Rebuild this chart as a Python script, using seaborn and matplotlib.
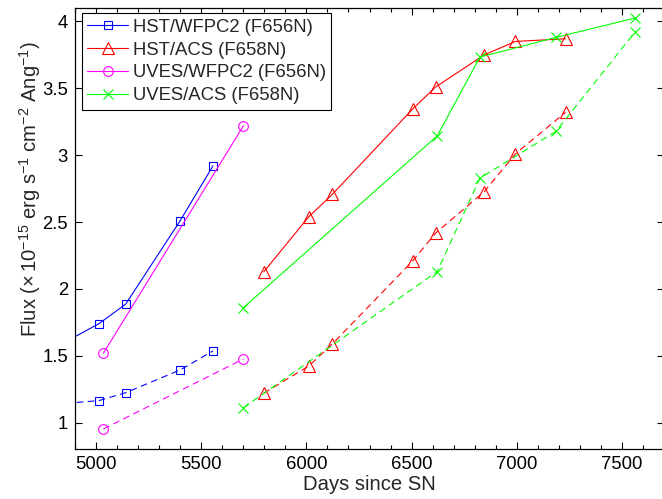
import matplotlib
matplotlib.use("Agg")
import matplotlib.pyplot as plt
from matplotlib.ticker import MultipleLocator, FuncFormatter
import seaborn as sns

# Light-curve fluxes: solid = one aperture, dashed = the other, per instrument pair
hst_wfpc2_days = [4750, 5014, 5141, 5400, 5556]
hst_wfpc2_solid = [1.515, 1.74, 1.886, 2.51, 2.92]
hst_wfpc2_dashed = [1.13, 1.165, 1.224, 1.394, 1.536]

hst_acs_days = [5797, 6012, 6124, 6506, 6614, 6846, 6994, 7232]
hst_acs_solid = [2.127, 2.54, 2.708, 3.346, 3.509, 3.75, 3.85, 3.87]
hst_acs_dashed = [1.22, 1.424, 1.589, 2.21, 2.417, 2.728, 3.01, 3.32]

uves_wfpc2_days = [5035, 5701]
uves_wfpc2_solid = [1.519, 3.22]
uves_wfpc2_dashed = [0.953, 1.476]

uves_acs_days = [5701, 6622, 6825, 7186, 7562]
uves_acs_solid = [1.86, 3.144, 3.733, 3.88, 4.025]
uves_acs_dashed = [1.112, 2.13, 2.828, 3.177, 3.92]

legend_labels = ["HST/WFPC2 (F656N)", "HST/ACS (F658N)",
                 "UVES/WFPC2 (F656N)", "UVES/ACS (F658N)"]

sns.set_theme(style="ticks")
plt.rcParams["font.family"] = ["Liberation Sans", "DejaVu Sans"]
plt.rcParams["mathtext.fontset"] = "custom"
plt.rcParams["mathtext.rm"] = "Liberation Sans"
plt.rcParams["mathtext.it"] = "Liberation Sans"
plt.rcParams["mathtext.default"] = "regular"

TICK_FS = 13.3
LABEL_FS = 14.6

fig = plt.figure(figsize=(6.62, 4.99), dpi=100)
ax = fig.add_axes([75 / 662, 49.6 / 499, 589 / 662, 441.4 / 499])

series = [
    (hst_wfpc2_days, hst_wfpc2_solid, hst_wfpc2_dashed, "#0000ff", "s", 6),
    (hst_acs_days, hst_acs_solid, hst_acs_dashed, "#ff0000", "^", 9),
    (uves_wfpc2_days, uves_wfpc2_solid, uves_wfpc2_dashed, "#ff00ff", "o", 7),
    (uves_acs_days, uves_acs_solid, uves_acs_dashed, "#00ff00", "x", 6.5),
]

handles = []
for days, solid, dashed, color, marker, ms in series:
    style = dict(color=color, marker=marker, markersize=ms,
                 markerfacecolor="none", markeredgecolor=color,
                 markeredgewidth=0.8, linewidth=0.8,
                 estimator=None, sort=False, legend=False, ax=ax)
    sns.lineplot(x=days, y=solid, linestyle="-", **style)
    handles.append(ax.lines[-1])
    sns.lineplot(x=days, y=dashed, linestyle=(0, (6, 4)), **style)

ax.set_xlim(4900, 7700)
ax.set_ylim(0.8, 4.1)
ax.xaxis.set_major_locator(MultipleLocator(500))
ax.xaxis.set_minor_locator(MultipleLocator(100))
ax.yaxis.set_major_locator(MultipleLocator(0.5))
ax.yaxis.set_major_formatter(FuncFormatter(lambda v, p: f"{v:g}"))

ax.tick_params(which="both", direction="in", top=True, right=True,
               width=0.8, colors="black", labelsize=TICK_FS)
ax.tick_params(which="major", length=5, pad=5)
ax.tick_params(which="minor", length=3)
for sp in ax.spines.values():
    sp.set_linewidth(0.9)
    sp.set_color("black")
# the right-hand frame edge falls just past the canvas
ax.spines["right"].set_visible(False)

ax.set_xlabel("Days since SN", fontsize=LABEL_FS, labelpad=1)
ax.set_ylabel(r"Flux ($\times\,10^{-15}$ erg s$^{-1}$ cm$^{-2}$ Ang$^{-1}$)",
              fontsize=LABEL_FS)
ax.yaxis.set_label_coords(-0.055, 0.59)

leg = ax.legend(handles, legend_labels, loc="upper left",
                bbox_to_anchor=(0.0114, 0.988), borderaxespad=0,
                fontsize=TICK_FS, frameon=True, fancybox=False,
                framealpha=1, edgecolor="black", handlelength=2.2,
                handletextpad=0.25, labelspacing=0.31, borderpad=0.3)
leg.get_frame().set_linewidth(0.8)

fig.savefig("out.png", dpi=100)
